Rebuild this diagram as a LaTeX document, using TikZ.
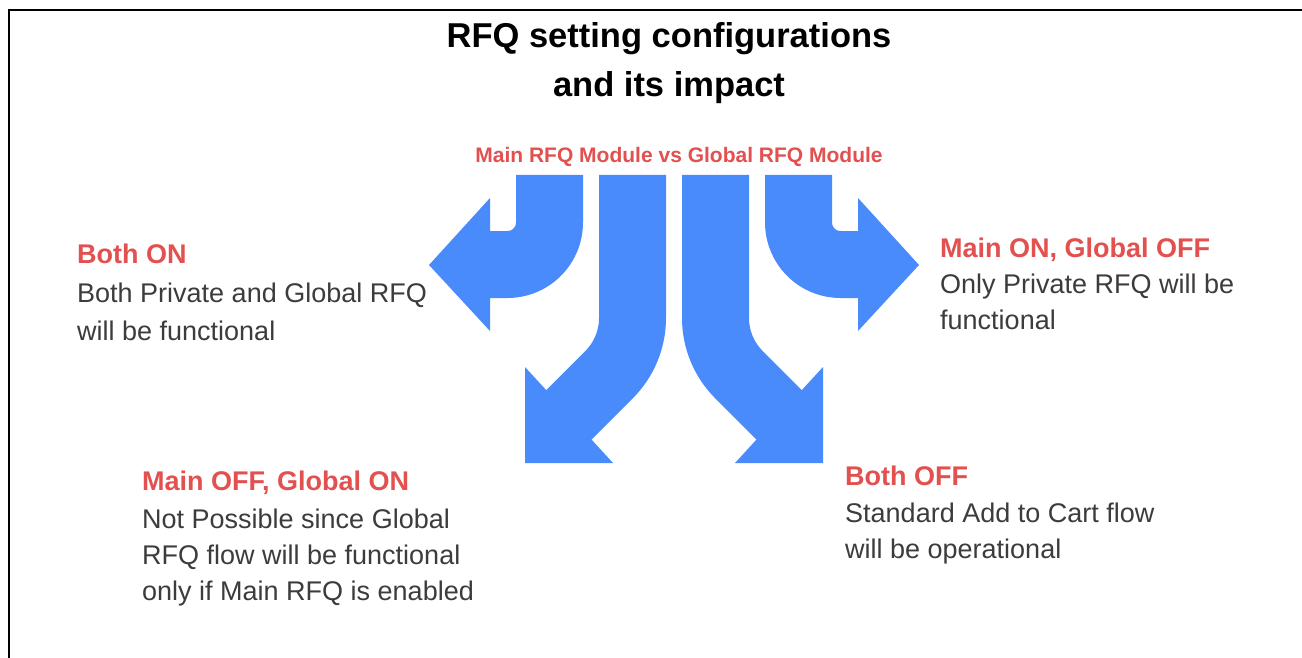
\documentclass[tikz,border=0pt]{standalone}
\usepackage{fontspec}
\setmainfont{Liberation Sans}
\definecolor{arrowblue}{RGB}{74,139,252}
\definecolor{headred}{RGB}{226,80,80}
\definecolor{bodygray}{RGB}{60,60,62}
\begin{document}
\begin{tikzpicture}[x=1pt,y=-1pt,
  titletext/.style={font=\fontsize{34.5}{40}\selectfont\bfseries, text=black, inner sep=0pt, anchor=base},
  subtext/.style={font=\fontsize{21}{25}\selectfont\bfseries, text=headred, inner sep=0pt, anchor=base},
  headtext/.style={font=\fontsize{27}{37}\selectfont\bfseries, text=headred, inner sep=0pt, anchor=base west},
  bodytext/.style={font=\fontsize{27}{37}\selectfont, text=bodygray, inner sep=0pt, anchor=base west},
  shaft/.style={draw=arrowblue, line width=67pt, line cap=butt, line join=round},
  head/.style={fill=arrowblue, draw=none}]
\useasboundingbox (0,0) rectangle (1302,658);
\fill[white] (0,0) rectangle (1302,658);
% frame (top and left edges only)
\draw[line width=2.2pt, black] (9,658) -- (9,10) -- (1302,10);

% title
\node[titletext] (t1) at (669,48) {RFQ setting configurations};
\node[titletext] (t2) at (669,97) {and its impact};
\node[subtext] (sub) at (679,163) {Main RFQ Module vs Global RFQ Module};

% arrow 1: left outer (to Both ON)
\draw[shaft] (549.5,175) -- (549.5,222.5) .. controls (549.5,245.7) and (530.7,264.5) .. (507.5,264.5) -- (486,264.5);
\fill[head] (490,198) -- (490,331) -- (429,265) -- cycle;
% arrow 4: right outer (to Main ON, Global OFF)
\draw[shaft] (798.5,175) -- (798.5,222.5) .. controls (798.5,245.7) and (817.3,264.5) .. (840.5,264.5) -- (862,264.5);
\fill[head] (858,198) -- (858,331) -- (919,265) -- cycle;
% arrow 2: left inner (to Main OFF, Global ON)
\draw[shaft] (632.5,175) -- (632.5,318) .. controls (632.5,339.2) and (624.1,359.6) .. (609.1,374.6) -- (565.1,418.6);
\fill[head] (525,367) -- (525,463) -- (613,463) -- cycle;
% arrow 3: right inner (to Both OFF)
\draw[shaft] (715.5,175) -- (715.5,318) .. controls (715.5,339.2) and (723.9,359.6) .. (738.9,374.6) -- (782.9,418.6);
\fill[head] (823,367) -- (823,463) -- (735,463) -- cycle;

% texts: Both ON
\node[headtext] (bon) at (77,263) {Both ON};
\node[bodytext] (bon1) at (77,302) {Both Private and Global RFQ};
\node[bodytext] (bon2) at (77,340) {will be functional};

% Main ON, Global OFF
\node[headtext] (mgon) at (940,257) {Main ON, Global OFF};
\node[bodytext] (mgon1) at (940,293) {Only Private RFQ will be};
\node[bodytext] (mgon2) at (940,329) {functional};

% Main OFF, Global ON
\node[headtext] (moff) at (142,490) {Main OFF, Global ON};
\node[bodytext] (moff1) at (142,528) {Not Possible since Global};
\node[bodytext] (moff2) at (142,564) {RFQ flow will be functional};
\node[bodytext] (moff3) at (142,600) {only if Main RFQ is enabled};

% Both OFF
\node[headtext] (boff) at (845,485) {Both OFF};
\node[bodytext] (boff1) at (845,522) {Standard Add to Cart flow};
\node[bodytext] (boff2) at (845,558) {will be operational};
\end{tikzpicture}
\end{document}
